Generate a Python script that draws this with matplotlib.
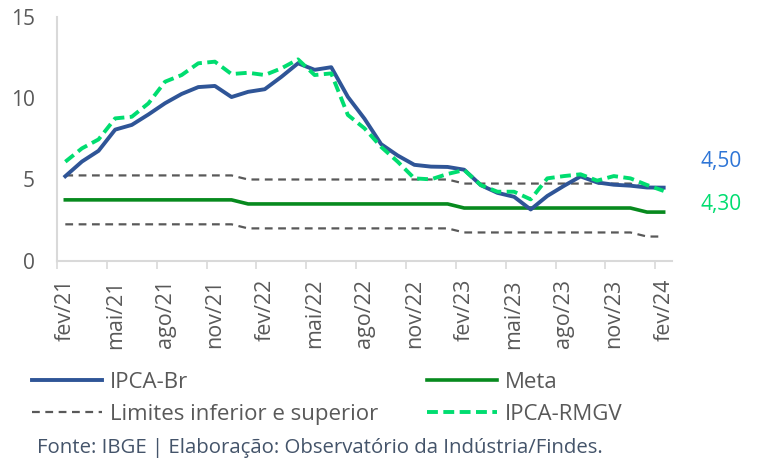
import numpy as np
import matplotlib
matplotlib.use("Agg")
import matplotlib.pyplot as plt
from matplotlib.ticker import FixedLocator

plt.rcParams['font.family'] = ['Open Sans', 'DejaVu Sans']

# monthly labels fev/21 .. fev/24
meses = ["jan", "fev", "mar", "abr", "mai", "jun", "jul", "ago", "set", "out", "nov", "dez"]
labels = []
for k in range(37):
    m = (1 + k) % 12
    a = 21 + (1 + k) // 12
    labels.append("%s/%d" % (meses[m], a))

ipca_br = [5.20, 6.10, 6.76, 8.06, 8.35, 8.99, 9.68, 10.25, 10.67, 10.74, 10.06,
           10.38, 10.54, 11.30, 12.13, 11.73, 11.89, 10.07, 8.73, 7.17, 6.47, 5.90, 5.79,
           5.77, 5.60, 4.65, 4.18, 3.94, 3.16, 3.99, 4.61, 5.19, 4.82, 4.68, 4.62,
           4.51, 4.50]
ipca_rmgv = [6.09, 6.91, 7.46, 8.75, 8.85, 9.67, 11.00, 11.41, 12.13, 12.23, 11.47,
             11.55, 11.41, 11.82, 12.37, 11.41, 11.51, 8.96, 8.14, 7.00, 6.09, 5.07, 5.01,
             5.34, 5.58, 4.66, 4.25, 4.25, 3.78, 5.07, 5.21, 5.32, 4.93, 5.21, 5.07,
             4.66, 4.30]
meta = [3.75] * 11 + [3.5] * 13 + [3.25] * 11 + [3.0] * 2
lim_sup = [5.25] * 11 + [5.0] * 13 + [4.75] * 11 + [4.5] * 2
lim_inf = [2.25] * 11 + [2.0] * 13 + [1.75] * 11 + [1.5] * 2

x = np.arange(len(labels))

fig = plt.figure(figsize=(7.58, 4.59), dpi=100)
ax = fig.add_axes([0.0752, 0.4314, 0.8113, 0.5326])

gray = "#595959"
l_lim, = ax.plot(x, lim_sup, color=gray, lw=1.6, ls=(0, (3.5, 2.5)))
ax.plot(x, lim_inf, color=gray, lw=1.6, ls=(0, (3.5, 2.5)))
l_meta, = ax.plot(x, meta, color="#078A1E", lw=2.6)
l_br, = ax.plot(x, ipca_br, color="#2F5597", lw=2.8)
l_rm, = ax.plot(x, ipca_rmgv, color="#00DD70", lw=2.8, ls=(0, (2.8, 1.4)))

ax.set_xlim(-0.5, 36.5)
ax.set_ylim(0, 15)
ax.set_yticks([0, 5, 10, 15])
ax.tick_params(axis='y', length=0, pad=16, labelsize=15, labelcolor=gray)

ax.set_xticks(x[::3])
ax.set_xticklabels(labels[::3], rotation=90)
ax.tick_params(axis='x', which='major', length=0, pad=13, labelsize=15.5, labelcolor=gray)
ax.xaxis.set_minor_locator(FixedLocator(np.arange(-0.5, 36, 3)))
ax.tick_params(axis='x', which='minor', length=6, width=1.2, color="#D9D9D9")

for s in ["top", "right"]:
    ax.spines[s].set_visible(False)
for s in ["left", "bottom"]:
    ax.spines[s].set_color("#D9D9D9")
    ax.spines[s].set_linewidth(1.5)

ax.text(38.2, 6.1, "4,50", color="#2E75D6", fontsize=15, va="center", clip_on=False)
ax.text(38.2, 3.45, "4,30", color="#00DD70", fontsize=15, va="center", clip_on=False)

kw = dict(loc="upper left", frameon=False, fontsize=16, handlelength=3.15,
          handletextpad=0.36, labelspacing=0.5, borderpad=0, borderaxespad=0)
leg1 = fig.legend([l_br, l_lim], ["IPCA-Br", "Limites inferior e superior"],
                  bbox_to_anchor=(32 / 758, 1 - 372 / 459), **kw)
leg2 = fig.legend([l_meta, l_rm], ["Meta", "IPCA-RMGV"],
                  bbox_to_anchor=(427 / 758, 1 - 372 / 459), **kw)
for leg in (leg1, leg2):
    for t in leg.get_texts():
        t.set_color(gray)

fig.text(37 / 758, 1 - 448 / 459, "Fonte: IBGE | Elaboração: Observatório da Indústria/Findes.",
         color="#44546A", fontsize=14.7, va="center")

fig.savefig("out.png", dpi=100)
